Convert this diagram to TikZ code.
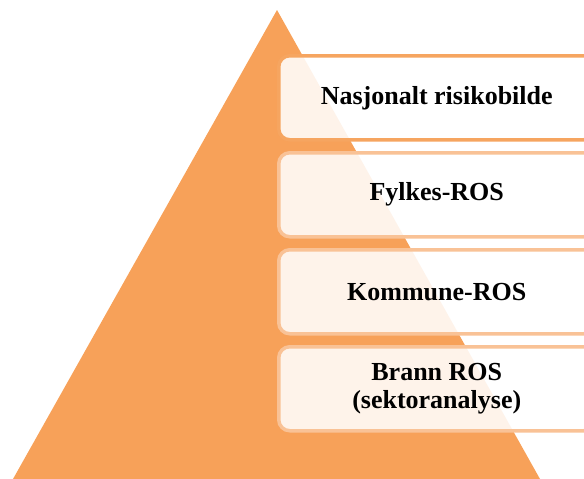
\documentclass[tikz,border=0pt]{standalone}
\usepackage{fontspec}
\setmainfont{Liberation Serif}
\definecolor{pyr}{RGB}{247,161,89}
\definecolor{edgeA}{RGB}{246,165,96}
\definecolor{edgeB}{RGB}{249,194,150}
\begin{document}
\begin{tikzpicture}[x=1pt,y=1pt,
  levelbox/.style={draw=edgeB, line width=3.5pt, rounded corners=11pt,
    fill=white, fill opacity=0.88, text opacity=1,
    minimum width=316pt, minimum height=84pt, anchor=north west,
    align=center, font=\fontsize{26}{28}\selectfont\bfseries}]
\useasboundingbox (0,0) rectangle (584,-479);
\clip (0,0) rectangle (584,-479);
\fill[pyr] (277,-10) coordinate (apex) -- (13,-479) -- (540,-479) -- cycle;
\node[levelbox, draw=edgeA] (n1) at (277,-54) {Nasjonalt risikobilde};
\node[levelbox] (n2) at (277,-151) {Fylkes-ROS};
\node[levelbox] (n3) at (277,-248) {Kommune-ROS};
\node[levelbox] (n4) at (277,-345) {Brann ROS\\(sektoranalyse)};
\end{tikzpicture}
\end{document}
